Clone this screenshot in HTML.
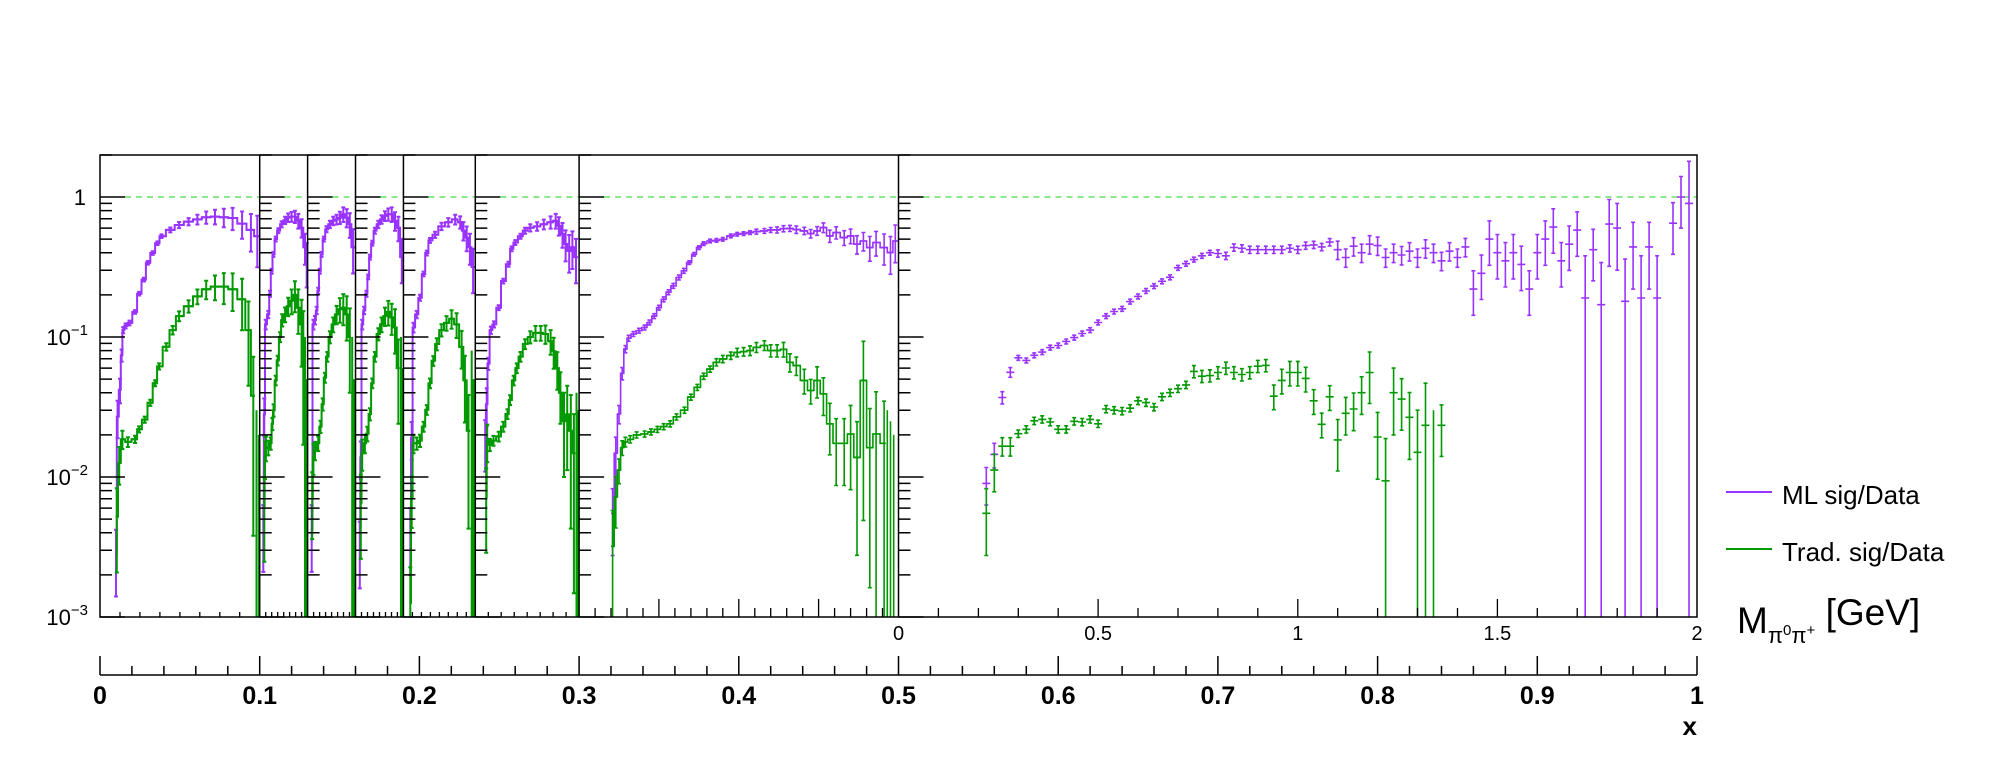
<!DOCTYPE html>
<html><head><meta charset="utf-8"><style>
html,body{margin:0;padding:0;background:#fff;}
svg{display:block;font-family:"Liberation Sans",Arial,sans-serif;}
</style></head><body>
<svg id="chart" width="1996" height="772" viewBox="0 0 1996 772" xmlns="http://www.w3.org/2000/svg">
<rect x="0" y="0" width="1996" height="772" fill="#fff"/>
<g id="marks"></g>
<g id="axes"></g>
<g>
  <line x1="1726" y1="492" x2="1772" y2="492" stroke="#9933ff" stroke-width="2"/>
  <text x="1782" y="504" font-size="26">ML sig/Data</text>
  <line x1="1726" y1="549" x2="1772" y2="549" stroke="#009900" stroke-width="2"/>
  <text x="1782" y="561" font-size="26">Trad. sig/Data</text>
</g>
<text x="1737" y="633" font-size="37">M<tspan font-size="22" dy="10">π</tspan><tspan font-size="15" dy="-8">0</tspan><tspan font-size="22" dy="8">π</tspan><tspan font-size="15" dy="-8">+</tspan><tspan dy="-10" font-size="37"> [GeV]</tspan></text>
<text x="1697" y="735" font-size="26" font-weight="bold" text-anchor="end">x</text>
</svg>
<script>
const panelEdges = [0,0.1,0.13,0.16,0.19,0.235,0.3,0.5,1];
const xTickLabels = ["0","0.1","0.2","0.3","0.4","0.5","0.6","0.7","0.8","0.9","1"];
const mTickLabels = ["0","0.5","1","1.5","2"];
const yTickLabels = [["1",""],["10","\u22121"],["10","\u22122"],["10","\u22123"]];

const p1mlM=[.20,.22,.25,.27,.29,.32,.37,.44,.49,.55,.60,.66,.72,.77,.88,.99,1.11,1.22,1.33,1.44,1.55,1.66,1.78,1.89,1.97];
const p1mlV=[.0028,.027,.042,.074,.112,.12,.126,.151,.204,.257,.339,.398,.468,.525,.582,.631,.667,.692,.716,.724,.716,.708,.646,.582,.525];
const p1mlE=[.5,.3,.2,.1,.05,.04,.04,.03,.03,.03,.03,.03,.03,.03,.04,.05,.06,.08,.1,.12,.15,.18,.22,.3,.4];
const p1trM=[.21,.24,.28,.35,.44,.49,.56,.63,.69,.74,.83,.91,.99,1.11,1.22,1.33,1.44,1.55,1.66,1.78,1.86,1.92,1.96,1.99];
const p1trV=[.0052,.0126,.0186,.0178,.0186,.0219,.0257,.0339,.0468,.0617,.0851,.112,.141,.166,.195,.219,.229,.229,.219,.186,.112,.038,0,0];
const p1trE=[.6,.3,.15,.08,.06,.05,.05,.05,.05,.05,.06,.07,.08,.1,.12,.15,.2,.25,.3,.4,.6,.9,.03,.02];

const p2mlM=[.15,.19,.25,.36,.43,.50,.57,.67,.78,.92,1.06,1.19,1.33,1.47,1.61,1.75,1.89,1.96];
const p2mlV=[.0042,.028,.123,.145,.204,.295,.389,.501,.575,.638,.682,.713,.724,.724,.676,.603,.437,.347];
const p2mlE=[.5,.3,.08,.06,.05,.04,.04,.04,.04,.05,.06,.07,.08,.1,.12,.15,.25,.35];
const p2trM=[.19,.22,.26,.36,.46,.53,.58,.67,.75,.85,.94,1.06,1.19,1.33,1.47,1.61,1.75,1.82,1.89,1.96];
const p2trV=[.0062,.0138,.0162,.0162,.0174,.024,.030,.049,.068,.1,.132,.145,.166,.182,.2,.162,.123,.085,0,0];
const p2trE=[.6,.3,.2,.12,.1,.1,.1,.08,.08,.08,.1,.12,.15,.2,.25,.35,.5,.8,.1,.05];

const p3mlM=[.17,.24,.31,.38,.44,.51,.58,.68,.79,.93,1.07,1.21,1.35,1.49,1.63,1.76,1.9];
const p3mlV=[.0042,.123,.132,.155,.214,.295,.389,.501,.589,.638,.676,.692,.713,.753,.713,.638,.437];
const p3mlE=[.5,.08,.07,.06,.05,.04,.04,.04,.05,.06,.07,.08,.1,.12,.15,.2,.35];
const p3trM=[.19,.24,.31,.44,.54,.63,.72,.82,.93,1.07,1.21,1.35,1.49,1.63,1.76,1.86,1.94];
const p3trV=[.0072,.0138,.0155,.0174,.0229,.0331,.0513,.0724,.1,.123,.145,.158,.162,.145,.1,0,0];
const p3trE=[.5,.25,.15,.12,.1,.1,.08,.08,.1,.12,.15,.2,.25,.35,.6,.1,.05];

const p4mlM=[.18,.22,.28,.36,.46,.53,.60,.70,.81,.95,1.09,1.23,1.37,1.51,1.65,1.79,1.93];
const p4mlV=[.0032,.0138,.123,.155,.204,.269,.372,.468,.575,.638,.692,.733,.753,.753,.676,.603,.372];
const p4mlE=[.5,.3,.08,.06,.05,.04,.04,.04,.05,.06,.07,.08,.1,.12,.15,.2,.35];
const p4trM=[.22,.28,.39,.49,.60,.70,.81,.95,1.09,1.23,1.37,1.51,1.65,1.79,1.9,1.96];
const p4trV=[.0065,.0148,.0174,.0204,.0282,.0468,.0724,.105,.123,.141,.151,.138,.117,.060,0,0];
const p4trE=[.6,.25,.15,.12,.1,.08,.08,.1,.12,.15,.2,.25,.35,.6,.1,.06];

const p5mlM=[.19,.23,.28,.37,.46,.56,.65,.74,.88,1.06,1.25,1.44,1.58,1.67,1.76,1.85,1.94];
const p5mlV=[.004,.019,.117,.145,.191,.282,.398,.49,.537,.617,.661,.692,.661,.575,.513,.437,.316];
const p5mlE=[.5,.3,.08,.06,.05,.04,.04,.04,.05,.06,.07,.08,.1,.15,.2,.25,.35];
const p5trM=[.19,.23,.28,.37,.46,.56,.65,.74,.83,.93,1.06,1.2,1.34,1.48,1.62,1.71,1.81,1.9,1.95];
const p5trV=[.00126,.0072,.0174,.0174,.0182,.0229,.0302,.0468,.0676,.0891,.112,.126,.135,.123,.085,.049,.0214,0,0];
const p5trE=[.8,.4,.15,.1,.1,.08,.08,.08,.08,.1,.1,.12,.15,.2,.3,.5,.8,.08,.05];

const p6mlM=[.19,.22,.25,.30,.36,.45,.54,.64,.70,.77,.87,.96,1.06,1.19,1.32,1.45,1.55,1.61,1.68,1.74,1.81,1.87,1.94];
const p6mlV=[.0182,.0331,.0646,.112,.123,.162,.251,.331,.427,.473,.525,.575,.603,.617,.638,.661,.676,.624,.543,.462,.412,.437,.372];
const p6mlE=[.4,.3,.1,.06,.05,.04,.04,.04,.04,.04,.04,.05,.06,.07,.08,.1,.12,.15,.2,.25,.3,.3,.35];
const p6trM=[.21,.23,.28,.35,.45,.54,.62,.67,.74,.80,.87,.96,1.06,1.16,1.26,1.35,1.45,1.51,1.58,1.64,1.71,1.77,1.84,1.9,1.95,1.98];
const p6trV=[.0072,.0182,.017,.0182,.0195,.0229,.0282,.0355,.049,.060,.0724,.0891,.1,.107,.107,.105,.0933,.079,.060,.040,.025,.028,.0214,.0148,0,0];
const p6trE=[.6,.3,.1,.08,.08,.08,.08,.08,.08,.08,.08,.08,.1,.12,.12,.15,.2,.25,.3,.4,.6,.6,.8,.9,.04,.03];

const p7mlM=[.21,.23,.25,.27,.29,.31,.34,.375,.41,.44,.47,.5,.53,.56,.59,.625,.656,.69,.72,.75,.78,.82,.86,.9,.95,.99,1.03,1.07,1.11,1.16,1.2,1.24,1.28,1.32,1.36,1.41,1.45,1.49,1.53,1.57,1.61,1.66,1.7,1.74,1.78,1.82,1.86,1.91,1.95,1.98];
const p7mlV=[.0055,.0148,.0282,.055,.082,.098,.105,.111,.117,.127,.141,.162,.186,.209,.232,.266,.297,.34,.39,.435,.465,.485,.49,.499,.527,.542,.548,.557,.566,.573,.582,.582,.594,.597,.585,.573,.548,.573,.605,.527,.557,.513,.527,.46,.485,.435,.473,.435,.401,.485];
const p7mlE=[.5,.3,.15,.1,.06,.05,.04,.04,.04,.04,.04,.04,.04,.04,.04,.04,.04,.03,.03,.03,.03,.03,.03,.03,.03,.03,.03,.03,.04,.04,.04,.05,.05,.05,.06,.06,.07,.07,.08,.1,.1,.12,.12,.15,.15,.2,.2,.25,.3,.3];
const p7trM=[.21,.23,.25,.27,.29,.32,.36,.41,.45,.49,.53,.57,.61,.66,.70,.74,.78,.82,.86,.90,.95,.99,1.03,1.07,1.11,1.16,1.2,1.24,1.28,1.32,1.36,1.41,1.45,1.49,1.53,1.57,1.61,1.66,1.7,1.74,1.78,1.82,1.86,1.91,1.93,1.95,1.97];
const p7trV=[.0032,.0072,.0112,.0162,.0178,.0186,.02,.0203,.021,.0219,.0229,.024,.0269,.030,.0372,.0437,.0525,.059,.066,.0697,.0736,.0776,.0785,.080,.0844,.087,.080,.080,.0817,.066,.0625,.049,.0415,.049,.0393,.024,.0174,.0174,.0203,.0138,.049,.0162,.0203,.0174,0,0,0];
const p7trE=[.8,.4,.2,.12,.08,.06,.05,.05,.05,.05,.05,.05,.05,.05,.05,.05,.05,.05,.06,.06,.06,.07,.07,.08,.08,.08,.1,.1,.12,.15,.15,.2,.2,.25,.3,.4,.5,.5,.6,.8,.9,.9,1,1,.03,.025,.02];

const p8mlM=[.22,.24,.26,.28,.30,.32,.34,.36,.38,.40,.42,.44,.46,.48,.50,.52,.54,.56,.58,.60,.62,.64,.66,.68,.70,.72,.74,.76,.78,.80,.82,.84,.86,.88,.90,.92,.94,.96,.98,1.00,1.02,1.04,1.06,1.08,1.10,1.12,1.14,1.16,1.18,1.20,1.22,1.24,1.26,1.28,1.30,1.32,1.34,1.36,1.38,1.40,1.42,1.44,1.46,1.48,1.50,1.52,1.54,1.56,1.58,1.60,1.62,1.64,1.66,1.68,1.70,1.72,1.74,1.76,1.78,1.80,1.82,1.84,1.86,1.88,1.90,1.92,1.94,1.96,1.98];
const p8mlV=[.009,.0145,.037,.056,.071,.068,.074,.078,.084,.087,.093,.099,.106,.112,.127,.141,.152,.159,.179,.195,.213,.231,.25,.267,.312,.334,.357,.38,.40,.395,.38,.436,.43,.42,.42,.42,.42,.42,.43,.42,.45,.455,.44,.476,.42,.37,.445,.40,.46,.45,.37,.40,.385,.41,.37,.43,.40,.35,.41,.37,.44,.22,.285,.50,.40,.35,.40,.33,.22,.40,.50,.61,.35,.46,.58,.19,.42,.17,.64,.60,.18,.44,.19,.44,.19,0,.65,1.0,.9];
const p8mlE=[.3,.2,.1,.08,.04,.04,.04,.04,.04,.04,.04,.04,.04,.04,.04,.04,.04,.04,.04,.04,.04,.04,.04,.04,.04,.04,.04,.04,.04,.06,.06,.06,.06,.06,.06,.06,.06,.06,.06,.06,.06,.06,.06,.06,.15,.15,.15,.15,.15,.15,.15,.15,.15,.15,.15,.15,.15,.15,.15,.15,.15,.35,.35,.35,.35,.35,.35,.35,.35,.35,.35,.35,.35,.35,.35,1,.4,1,.5,.5,1,.5,1,.5,1,0,.4,.4,1];
const p8trM=[.22,.24,.26,.28,.30,.32,.34,.36,.38,.40,.42,.44,.46,.48,.50,.52,.54,.56,.58,.60,.62,.64,.66,.68,.70,.72,.74,.76,.78,.80,.82,.84,.86,.88,.90,.92,.94,.96,.98,1.00,1.02,1.04,1.06,1.08,1.10,1.12,1.14,1.16,1.18,1.20,1.22,1.24,1.26,1.28,1.30,1.32,1.34,1.36];
const p8trV=[.0055,.0112,.0166,.0166,.0204,.0219,.0252,.0258,.0247,.0219,.0219,.025,.0247,.0258,.024,.0306,.030,.0296,.031,.035,.034,.0316,.0374,.040,.0427,.0455,.0568,.0525,.053,.0558,.0601,.0558,.054,.0558,.0619,.0627,.0378,.049,.0558,.0558,.0506,.035,.0238,.0374,.0184,.0285,.0306,.040,.0558,.0193,.0094,.040,.036,.0267,.015,.0234,0,.0234];
const p8trE=[.5,.3,.15,.15,.06,.06,.06,.06,.06,.06,.06,.06,.06,.06,.06,.06,.06,.06,.06,.06,.06,.06,.06,.06,.06,.06,.1,.1,.1,.1,.1,.1,.1,.1,.1,.1,.2,.2,.2,.2,.2,.2,.2,.2,.4,.3,.3,.3,.4,.5,1,.5,.4,.5,1,1,.03,.4];

const mlSeries=[[p1mlM,p1mlV,p1mlE],[p2mlM,p2mlV,p2mlE],[p3mlM,p3mlV,p3mlE],[p4mlM,p4mlV,p4mlE],[p5mlM,p5mlV,p5mlE],[p6mlM,p6mlV,p6mlE],[p7mlM,p7mlV,p7mlE],[p8mlM,p8mlV,p8mlE]];
const trSeries=[[p1trM,p1trV,p1trE],[p2trM,p2trV,p2trE],[p3trM,p3trV,p3trE],[p4trM,p4trV,p4trE],[p5trM,p5trV,p5trE],[p6trM,p6trV,p6trE],[p7trM,p7trV,p7trE],[p8trM,p8trV,p8trE]];

const NS="http://www.w3.org/2000/svg";
const L=100,R=1697,T=155,B=617;
function X(x){return L+(R-L)*x;}
function Y(v){if(v<=0.001)return B;return Math.max(T,Math.min(B,B-(Math.log10(v)+3)*140));}
function PM(p,m){const a=X(panelEdges[p]),b=X(panelEdges[p+1]);return a+(b-a)*m/2;}
function mk(tag,attrs,parent){const e=document.createElementNS(NS,tag);for(const k in attrs)e.setAttribute(k,attrs[k]);parent.appendChild(e);return e;}
const marks=document.getElementById('marks');
const axes=document.getElementById('axes');

function drawSeries(p,M,V,E,color,name){
  const g=mk('g',{},marks);
  
  
  let d='';
  let step='';
  let prevY=null;
  for(let i=0;i<M.length;i++){
    const lo=i>0?(M[i]+M[i-1])/2:M[i]-(M[i+1]-M[i])/2;
    const hi=i<M.length-1?(M[i]+M[i+1])/2:M[i]+(M[i]-M[i-1])/2;
    const x=PM(p,M[i]),x0=PM(p,lo),x1=PM(p,hi);
    if(V[i]<=0){
      if(E[i]>0){d+=`M${x.toFixed(1)},${B}V${Y(E[i]).toFixed(1)}`;}
      prevY=null;
      continue;
    }
    const y=Y(V[i]);
    const up=Y(V[i]*(1+E[i]));
    const dn=E[i]>=1?B:Y(V[i]*(1-E[i]));
    if(p<7){
      if(prevY===null) step+=`M${x0.toFixed(1)},${y.toFixed(1)}`;
      else step+=`V${y.toFixed(1)}`;
      step+=`H${x1.toFixed(1)}`;
      prevY=y;
    }
    d+=`M${x0.toFixed(1)},${y.toFixed(1)}H${x1.toFixed(1)}`;
    d+=`M${x.toFixed(1)},${up.toFixed(1)}V${dn.toFixed(1)}`;
    if(dn<B)d+=`M${(x-2).toFixed(1)},${dn.toFixed(1)}h4`;
    if(up>T)d+=`M${(x-2).toFixed(1)},${up.toFixed(1)}h4`;
  }
  const sw=p<6?2:1.6;
  if(step){const sp=mk('path',{d:step,stroke:color,'stroke-width':sw,fill:'none'},g);
    
    }
  const path=mk('path',{d:d,stroke:color,'stroke-width':sw,fill:'none'},g);
  
  
}

for(let p=0;p<8;p++){
  const a=X(panelEdges[p]),b=X(panelEdges[p+1]);
  const ln=mk('line',{x1:a+25,y1:Y(1),x2:b,y2:Y(1),stroke:'#44dd44','stroke-width':1.3,'stroke-dasharray':'6,5'},marks);
  
  
}
for(let p=0;p<8;p++){drawSeries(p,mlSeries[p][0],mlSeries[p][1],mlSeries[p][2],'#9933ff','ml-ratio');}
for(let p=0;p<8;p++){drawSeries(p,trSeries[p][0],trSeries[p][1],trSeries[p][2],'#009900','trad-ratio');}

const frame=mk('rect',{x:L,y:T,width:R-L,height:B-T,fill:'none',stroke:'#000','stroke-width':1.5},axes);



for(let p=0;p<8;p++){
  const a=X(panelEdges[p]),b=X(panelEdges[p+1]);
  if(p>0){const dv=mk('line',{x1:a,y1:T,x2:a,y2:B,stroke:'#000','stroke-width':1.5},axes);
    
    }
  let d='';
  for(let dec=-3;dec<=0;dec++){
    const base=Math.pow(10,dec);
    d+=`M${a},${Y(base).toFixed(1)}h25`;
    if(dec<0)for(let k=2;k<=9;k++){d+=`M${a},${Y(base*k).toFixed(1)}h12`;}
  }
  d+=`M${a},${Y(2).toFixed(1)}h12`;
  const tk=mk('path',{d:d,stroke:'#000','stroke-width':1.5,fill:'none'},axes);
  
  
  let bd='';
  const stp=p>=6?0.1:0.25;
  for(let m=stp;m<2-1e-6;m+=stp){
    const x=PM(p,m);
    const major=p>=6&&Math.abs(m*2-Math.round(m*2))<1e-6;
    bd+=`M${x.toFixed(1)},${B}v${major?-18:(p>=6?-9:-5)}`;
  }
  const bt=mk('path',{d:bd,stroke:'#000','stroke-width':1.3,fill:'none'},axes);
  
  
}
yTickLabels.forEach((lab,i)=>{
  const t=mk('text',{x:86,y:(Y(Math.pow(10,-i))+8).toFixed(1),'font-size':22,'text-anchor':'end'},axes);
  
  
  if(lab[1]){t.innerHTML=`${lab[0]}<tspan font-size="15" dy="-10">${lab[1]}</tspan>`;t.setAttribute('x',88);}
  else t.textContent=lab[0];
});
mTickLabels.forEach((lab,i)=>{
  const t=mk('text',{x:PM(7,i*0.5).toFixed(1),y:640,'font-size':20,'text-anchor':'middle'},axes);
  
  
  t.textContent=lab;
});
const xa=mk('line',{x1:L,y1:675,x2:R,y2:675,stroke:'#000','stroke-width':1.5},axes);


let xd='';
for(let i=0;i<=50;i++){const x=X(i/50);xd+=`M${x.toFixed(1)},675v${i%5===0?-19:-9}`;}
const xt=mk('path',{d:xd,stroke:'#000','stroke-width':1.5,fill:'none'},axes);


xTickLabels.forEach((lab,i)=>{
  const t=mk('text',{x:X(i/10).toFixed(1),y:704,'font-size':25,'font-weight':'bold','text-anchor':'middle'},axes);
  
  
  t.textContent=lab;
});
</script>
</body></html>
